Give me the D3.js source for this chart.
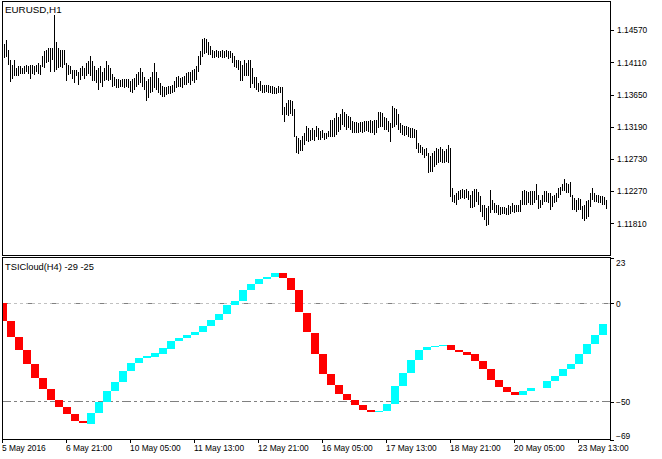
<!DOCTYPE html>
<html><head><meta charset="utf-8">
<script src="https://cdn.jsdelivr.net/npm/d3@7"></script>
<style>
html,body{margin:0;padding:0;background:#fff;}
svg{display:block;}
text{font-family:"Liberation Sans",Arial,sans-serif;fill:#000;}
</style></head><body>
<svg id="c" width="662" height="459"></svg>
<script>
const symbolTitle = "EURUSD,H1";
const indicatorTitle = "TSICloud(H4) -29 -25";
const firstBarHour = 13; // first H1 bar: 5 May 2016 13:00
const h4Hours = 4;

const highs = [
1.1431,1.1436,1.1442,1.1428,1.1414,1.1407,1.1414,1.1402,1.1405,1.1405,
1.1402,1.1405,1.1406,1.1405,1.1407,1.1407,1.1405,1.1407,1.1409,1.1407,
1.1419,1.1426,1.1428,1.1431,1.1431,1.1431,1.1478,1.1440,1.1431,1.1428,
1.1428,1.1428,1.1409,1.1407,1.1405,1.1400,1.1400,1.1400,1.1397,1.1402,
1.1405,1.1402,1.1409,1.1412,1.1419,1.1412,1.1405,1.1400,1.1402,1.1405,
1.1397,1.1402,1.1412,1.1407,1.1402,1.1393,1.1390,1.1387,1.1386,1.1385,
1.1386,1.1386,1.1387,1.1386,1.1383,1.1386,1.1388,1.1393,1.1397,1.1402,
1.1397,1.1390,1.1383,1.1386,1.1390,1.1397,1.1409,1.1397,1.1388,1.1381,
1.1377,1.1375,1.1375,1.1376,1.1377,1.1378,1.1383,1.1389,1.1391,1.1388,
1.1389,1.1391,1.1395,1.1397,1.1397,1.1400,1.1401,1.1405,1.1419,1.1426,
1.1444,1.1445,1.1444,1.1440,1.1433,1.1428,1.1427,1.1428,1.1426,1.1427,
1.1428,1.1427,1.1428,1.1427,1.1426,1.1424,1.1419,1.1414,1.1413,1.1412,
1.1407,1.1414,1.1410,1.1414,1.1413,1.1402,1.1389,1.1390,1.1381,1.1383,
1.1378,1.1378,1.1378,1.1378,1.1377,1.1376,1.1375,1.1374,1.1377,1.1375,
1.1375,1.1347,1.1353,1.1356,1.1357,1.1355,1.1343,1.1305,1.1302,1.1300,
1.1305,1.1309,1.1319,1.1317,1.1314,1.1317,1.1314,1.1319,1.1317,1.1312,
1.1314,1.1309,1.1310,1.1312,1.1328,1.1328,1.1331,1.1338,1.1333,1.1336,
1.1343,1.1340,1.1336,1.1334,1.1333,1.1326,1.1325,1.1325,1.1324,1.1325,
1.1325,1.1326,1.1326,1.1326,1.1328,1.1326,1.1328,1.1328,1.1339,1.1340,
1.1338,1.1333,1.1331,1.1326,1.1324,1.1348,1.1345,1.1343,1.1336,1.1323,
1.1321,1.1320,1.1319,1.1318,1.1317,1.1317,1.1315,1.1314,1.1295,1.1293,
1.1290,1.1286,1.1288,1.1281,1.1276,1.1281,1.1283,1.1288,1.1286,1.1290,
1.1286,1.1283,1.1286,1.1293,1.1288,1.1231,1.1221,1.1224,1.1226,1.1228,
1.1229,1.1228,1.1229,1.1226,1.1221,1.1226,1.1229,1.1229,1.1225,1.1219,
1.1207,1.1207,1.1202,1.1205,1.1228,1.1214,1.1210,1.1207,1.1206,1.1204,
1.1204,1.1204,1.1202,1.1206,1.1205,1.1209,1.1207,1.1206,1.1207,1.1214,
1.1226,1.1228,1.1226,1.1225,1.1226,1.1226,1.1226,1.1236,1.1221,1.1214,
1.1221,1.1226,1.1226,1.1224,1.1224,1.1220,1.1221,1.1224,1.1231,1.1233,
1.1236,1.1243,1.1238,1.1236,1.1240,1.1221,1.1217,1.1214,1.1217,1.1215,
1.1205,1.1207,1.1212,1.1214,1.1224,1.1231,1.1224,1.1221,1.1221,1.1220,
1.1219,1.1218,1.1214
];
const lows = [
1.1416,1.1419,1.1421,1.1409,1.1385,1.1389,1.1393,1.1393,1.1394,1.1397,
1.1396,1.1397,1.1399,1.1397,1.1390,1.1397,1.1395,1.1400,1.1397,1.1395,
1.1407,1.1405,1.1412,1.1414,1.1400,1.1416,1.1400,1.1402,1.1405,1.1407,
1.1405,1.1409,1.1386,1.1395,1.1397,1.1390,1.1383,1.1393,1.1381,1.1388,
1.1393,1.1390,1.1393,1.1397,1.1393,1.1386,1.1386,1.1383,1.1374,1.1383,
1.1378,1.1386,1.1388,1.1386,1.1388,1.1378,1.1380,1.1377,1.1377,1.1378,
1.1378,1.1377,1.1378,1.1376,1.1371,1.1369,1.1374,1.1378,1.1381,1.1383,
1.1378,1.1374,1.1358,1.1362,1.1369,1.1371,1.1376,1.1374,1.1370,1.1367,
1.1364,1.1364,1.1367,1.1368,1.1368,1.1369,1.1371,1.1377,1.1378,1.1378,
1.1376,1.1381,1.1381,1.1383,1.1381,1.1386,1.1383,1.1388,1.1399,1.1409,
1.1421,1.1425,1.1426,1.1424,1.1424,1.1420,1.1419,1.1421,1.1419,1.1421,
1.1419,1.1420,1.1421,1.1418,1.1419,1.1412,1.1406,1.1405,1.1402,1.1386,
1.1386,1.1394,1.1393,1.1393,1.1377,1.1382,1.1376,1.1374,1.1371,1.1372,
1.1370,1.1369,1.1371,1.1370,1.1370,1.1368,1.1368,1.1368,1.1369,1.1369,
1.1338,1.1328,1.1338,1.1336,1.1340,1.1336,1.1306,1.1283,1.1282,1.1286,
1.1286,1.1295,1.1301,1.1300,1.1301,1.1302,1.1301,1.1307,1.1302,1.1302,
1.1305,1.1302,1.1304,1.1306,1.1307,1.1307,1.1307,1.1309,1.1314,1.1317,
1.1323,1.1321,1.1317,1.1319,1.1317,1.1312,1.1313,1.1313,1.1313,1.1314,
1.1313,1.1314,1.1315,1.1314,1.1313,1.1312,1.1309,1.1312,1.1319,1.1321,
1.1321,1.1317,1.1317,1.1314,1.1300,1.1319,1.1321,1.1324,1.1317,1.1312,
1.1309,1.1308,1.1309,1.1307,1.1305,1.1305,1.1305,1.1290,1.1283,1.1283,
1.1281,1.1276,1.1279,1.1255,1.1257,1.1257,1.1264,1.1267,1.1269,1.1271,
1.1269,1.1269,1.1271,1.1269,1.1221,1.1214,1.1212,1.1210,1.1217,1.1218,
1.1219,1.1218,1.1220,1.1217,1.1205,1.1205,1.1207,1.1214,1.1210,1.1200,
1.1193,1.1188,1.1179,1.1181,1.1198,1.1202,1.1198,1.1198,1.1195,1.1195,
1.1196,1.1196,1.1195,1.1195,1.1196,1.1199,1.1198,1.1200,1.1200,1.1200,
1.1210,1.1210,1.1209,1.1212,1.1210,1.1210,1.1212,1.1217,1.1204,1.1205,
1.1209,1.1214,1.1214,1.1212,1.1202,1.1207,1.1212,1.1214,1.1219,1.1223,
1.1229,1.1229,1.1226,1.1226,1.1221,1.1202,1.1202,1.1200,1.1202,1.1202,
1.1190,1.1187,1.1190,1.1193,1.1207,1.1217,1.1214,1.1214,1.1213,1.1212,
1.1210,1.1210,1.1204
];
const priceTicks = [1.14570, 1.14110, 1.13650, 1.13190, 1.12730, 1.12270, 1.11810];

// TSI cloud, one value per H4 bar (null = no value)
const tsi = [
-8.8,-16.9,-23.7,-30.6,-37.7,-43.4,-49.0,-52.4,-56.1,-59.5,
-60.8,-55.7,-50.2,-44.4,-39.7,-34.3,-30.1,-27.5,-26.5,-25.3,
-22.8,-19.1,-17.4,-16.0,-14.4,-11.3,-8.5,-5.6,-0.9,1.2,
6.7,9.8,12.3,13.3,15.2,12.7,6.7,-4.6,-14.7,-25.5,
-35.7,-41.4,-46.0,-48.8,-51.4,-53.9,-55.2,-54.4,-51.0,-41.9,
-35.2,-28.7,-23.7,-22.3,-21.5,-21.1,-23.5,-24.8,-26.2,-29.2,
-33.3,-38.9,-42.4,-44.9,-46.3,-44.3,-43.1,null,-39.4,-36.7,
-33.3,-30.6,-25.5,-20.8,-16.1,-10.6
];
const signal = [
0.3,-9.0,-16.9,-23.7,-30.6,-37.7,-43.4,-49.0,-52.4,-56.1,
-59.5,-61.1,-55.7,-50.2,-44.4,-39.7,-34.3,-30.1,-27.5,-27.0,
-25.5,-23.0,-19.1,-17.4,-16.0,-14.4,-11.3,-8.5,-5.6,-0.9,
1.2,6.7,9.8,12.3,13.3,15.2,12.7,6.7,-5.1,-15.2,
-25.7,-35.8,-41.4,-46.0,-48.8,-51.4,-53.9,-55.2,-54.4,-51.0,
-41.9,-35.2,-28.7,-23.7,-22.3,-21.6,-21.1,-23.5,-24.7,-25.8,
-29.2,-33.3,-38.9,-42.4,-44.8,-46.3,-44.3,null,-42.8,-39.4,
-36.7,-33.3,-30.6,-25.5,-20.8,-16.1
];
const levels = [0, -50];
const indicatorTicks = [23, 0, -50, -69];
const timeLabelBars = [0, 32, 64, 96, 128, 160, 192, 224, 256, 288];
const timeLabels = ["5 May 2016","6 May 21:00","10 May 05:00","11 May 13:00","12 May 21:00",
  "16 May 05:00","17 May 13:00","18 May 21:00","20 May 05:00","23 May 13:00"];

const upColor = "#00ffff", downColor = "#ff0000";

const svg = d3.select("#c");
svg.append("rect").attr("width",662).attr("height",459).attr("fill","#fff");

const nBars = highs.length;
// x: left edge of the pixel column of each H1 bar (2 px per bar)
const x = d3.scaleLinear().domain([0, nBars - 1]).range([2, 2 + 2 * (nBars - 1)]);
const yP = d3.scaleLinear().domain([1.11810, 1.14570]).range([223.4, 30.2]);
const yI = d3.scaleLinear().domain([-69, 23]).range([439.5, 257.9]);

const defs = svg.append("defs");
defs.append("clipPath").attr("id","clipMain").append("rect")
  .attr("x",3).attr("y",2).attr("width",607).attr("height",253);
defs.append("clipPath").attr("id","clipInd").append("rect")
  .attr("x",3).attr("y",258).attr("width",607).attr("height",181);

// ---- price bars
svg.append("g").attr("clip-path","url(#clipMain)")
  .selectAll("line").data(highs).join("line")
  .attr("x1",(d,i)=>x(i)+0.5).attr("x2",(d,i)=>x(i)+0.5)
  .attr("y1",d=>Math.floor(yP(d))).attr("y2",(d,i)=>Math.ceil(yP(lows[i]))+1)
  .attr("stroke","#000").attr("stroke-width",1).attr("shape-rendering","crispEdges");

// ---- indicator levels
const gInd = svg.append("g").attr("clip-path","url(#clipInd)");
levels.forEach(lv => {
  const yy = Math.floor(yI(lv)) + 0.5;
  gInd.append("line").attr("x1",2).attr("x2",610).attr("y1",yy).attr("y2",yy)
    .attr("stroke", lv === 0 ? "#c0c0c0" : "#808080").attr("stroke-width",1)
    .attr("stroke-dasharray","3,3").attr("shape-rendering","crispEdges");
  gInd.append("line").attr("x1",2).attr("x2",610).attr("y1",yy).attr("y2",yy)
    .attr("stroke","#808080").attr("stroke-width",1)
    .attr("stroke-dasharray","4,20").attr("stroke-dashoffset",22).attr("shape-rendering","crispEdges");
});

// ---- H4 blocks mapped onto H1 bars
const blocks = [];
for (let i = 0; i < nBars; i++) {
  const hour = (firstBarHour + i) % 24;
  if (i === 0 || hour % h4Hours === 0) blocks.push({a: i, b: i});
  else blocks[blocks.length - 1].b = i;
}
const cloud = blocks.map((bl, k) => ({a: bl.a, b: bl.b, t: tsi[k], s: signal[k]}))
  .filter(d => d.t != null && d.s != null);

gInd.selectAll("rect.cloud").data(cloud).join("rect").attr("class","cloud")
  .attr("x", d => x(d.a) - 1)
  .attr("width", d => x(d.b) - x(d.a) + 2)
  .attr("y", d => Math.round(yI(Math.max(d.t, d.s))))
  .attr("height", d => Math.max(1, Math.round(yI(Math.min(d.t, d.s))) - Math.round(yI(Math.max(d.t, d.s)))))
  .attr("fill", d => d.t >= d.s ? upColor : downColor)
  .attr("shape-rendering","crispEdges");

// ---- frames
svg.append("rect").attr("x",2.5).attr("y",1.5).attr("width",608).attr("height",254)
  .attr("fill","none").attr("stroke","#000").attr("shape-rendering","crispEdges");
svg.append("rect").attr("x",2.5).attr("y",257.5).attr("width",608).attr("height",182)
  .attr("fill","none").attr("stroke","#000").attr("shape-rendering","crispEdges");

// ---- axes
function styleAxis(g, size) {
  g.select(".domain").remove();
  g.selectAll("line").attr("stroke","#000").attr("shape-rendering","crispEdges");
  g.selectAll("text").attr("font-family",'"Liberation Sans",Arial,sans-serif')
    .attr("font-size", size).attr("fill","#000");
  g.attr("font-family", null).attr("font-size", null);
}
const gPrice = svg.append("g").attr("transform","translate(610,0)")
  .call(d3.axisRight(yP).tickValues(priceTicks).tickSize(4).tickPadding(3).tickFormat(d3.format(".5f")));
styleAxis(gPrice, 8.4);

const gIndAx = svg.append("g").attr("transform","translate(610,0)")
  .call(d3.axisRight(yI).tickValues(indicatorTicks).tickSize(4).tickPadding(2).tickFormat(d3.format("d")));
styleAxis(gIndAx, 8.4);
const iMax = d3.max(indicatorTicks), iMin = d3.min(indicatorTicks);
gIndAx.selectAll(".tick text").attr("dy", d => d === iMax ? "0.85em" : d === iMin ? "-0.15em" : "0.32em");

const gTime = svg.append("g").attr("transform","translate(0,439)")
  .call(d3.axisBottom(x).tickValues(timeLabelBars).tickSize(4).tickPadding(2)
    .tickFormat((d,i) => timeLabels[i]));
styleAxis(gTime, 8.4);
gTime.selectAll(".tick text").attr("text-anchor","start").attr("x",-0.5);

// ---- titles
svg.append("text").attr("x",5).attr("y",13).attr("font-size",9.8).text(symbolTitle);
svg.append("text").attr("x",5).attr("y",270).attr("font-size",9.3).text(indicatorTitle);
</script>
</body></html>
